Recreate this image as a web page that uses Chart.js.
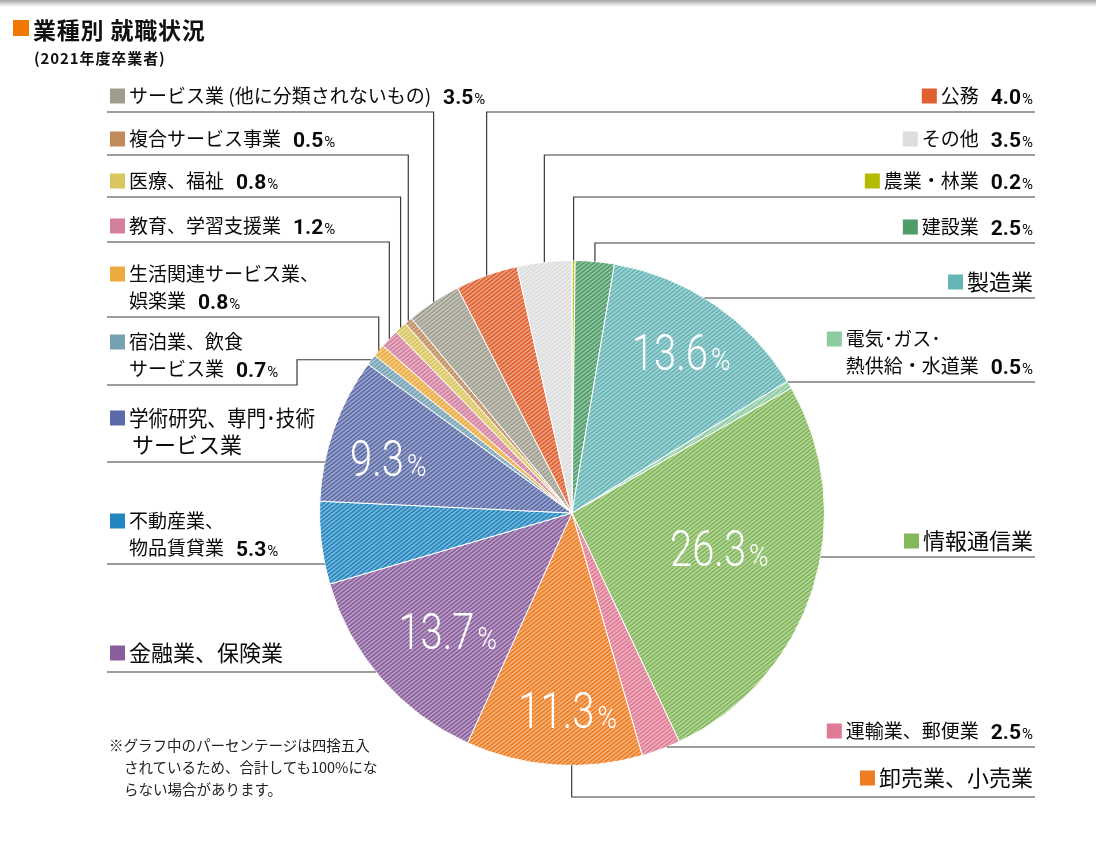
<!DOCTYPE html>
<html>
<head>
<meta charset="utf-8">
<script src="https://cdn.jsdelivr.net/npm/chart.js@4.4.1/dist/chart.umd.min.js"></script>
<style>
body{margin:0;background:#fff;width:1096px;height:844px;overflow:hidden;position:relative;font-family:"Noto Sans CJK JP",sans-serif;color:#111}
.topbar{position:absolute;left:0;top:0;width:1096px;height:7px;background:linear-gradient(#a6a6a6,#fff)}
#c{position:absolute;left:0;top:0}
.sq{position:absolute;left:13px;top:20px;width:16px;height:16px;background:#f07800}
.title{position:absolute;left:33px;top:12px;font-size:23px;font-weight:bold;line-height:34px;letter-spacing:0.8px}
.sub{position:absolute;left:34px;top:47px;font-size:15px;font-weight:bold;line-height:22px;letter-spacing:0.9px}
.note{position:absolute;left:109px;top:734px;font-size:14.5px;line-height:22px;color:#222}
.note span{display:block;padding-left:15px}
</style>
</head>
<body>
<div class="topbar"></div>
<canvas id="c" width="1096" height="844"></canvas>
<div class="sq"></div>
<div class="title">業種別 就職状況</div>
<div class="sub">(2021年度卒業者)</div>
<div class="note">※グラフ中のパーセンテージは四捨五入<span>されているため、合計しても100%にな</span><span>らない場合があります。</span></div>
<script>
// 業種 (時計回り、12時から)
const categories = ['農業・林業', '建設業', '製造業', '電気･ガス･\n熱供給・水道業', '情報通信業',
  '運輸業、郵便業', '卸売業、小売業', '金融業、保険業', '不動産業、\n物品賃貸業',
  '学術研究、専門･技術\nサービス業', '宿泊業、飲食\nサービス業', '生活関連サービス業、\n娯楽業',
  '教育、学習支援業', '医療、福祉', '複合サービス事業', 'サービス業 (他に分類されないもの)', '公務', 'その他'];
const shares = [0.2, 2.5, 13.6, 0.5, 26.3, 2.5, 11.3, 13.7, 5.3, 9.3, 0.7, 0.8, 1.2, 0.8, 0.5, 3.5, 4.0, 3.5];
const colors = ['#b3bb00', '#4e9d69', '#66b5b7', '#8dcba2', '#83b85a', '#e17a94', '#ee7d22', '#8a5e9d',
  '#2286c0', '#5b6ba8', '#74a1b4', '#ebab3f', '#d57f9f', '#d9c75d', '#c18a5a', '#9f9e8e', '#e0612f', '#dddddd'];

const canvas = document.getElementById('c');
const ctx0 = canvas.getContext('2d');

function hatch(color) {
  const w = 5, h = 4;
  const c = document.createElement('canvas');
  c.width = w; c.height = h;
  const g = c.getContext('2d');
  g.fillStyle = color;
  g.fillRect(0, 0, w, h);
  g.strokeStyle = 'rgba(255,255,255,0.42)';
  g.lineWidth = 1.4;
  g.beginPath();
  for (let k = -1; k <= 1; k++) {
    g.moveTo(-w + k * w, 2 * h); g.lineTo(2 * w + k * w, -h);
  }
  g.stroke();
  return ctx0.createPattern(c, 'repeat');
}

// 円の中に数字を出す項目 (半径の割合 r, 扇形の中の角度の割合 t)
const inside = {2: {r: 0.77, t: 0.5}, 4: {r: 0.6, t: 0.457}, 6: {r: 0.78, t: 0.43},
  7: {r: 0.68, t: 0.446}, 9: {r: 0.76, t: 0.42}};

// 引き出し線と文字の配置
const layout = [
  {i: 0, side: 'r', y: 197, type: 'v'},
  {i: 1, side: 'r', y: 243, type: 'v'},
  {i: 2, side: 'r', y: 298, type: 'h'},
  {i: 3, side: 'r', y: 382, type: 'h'},
  {i: 4, side: 'r', y: 557, type: 'h'},
  {i: 5, side: 'r', y: 747, type: 'h'},
  {i: 6, side: 'r', y: 797, type: 'v', t: 0.4, dy: 19},
  {i: 7, side: 'l', y: 672, type: 'h', dy: 19},
  {i: 8, side: 'l', y: 564, type: 'h'},
  {i: 9, side: 'l', y: 462, type: 'h', dy: 17, maxW: 186},
  {i: 10, side: 'l', y: 385, type: 'elbow', ex: 297},
  {i: 11, side: 'l', y: 317, type: 'v'},
  {i: 12, side: 'l', y: 242, type: 'v'},
  {i: 13, side: 'l', y: 197, type: 'v'},
  {i: 14, side: 'l', y: 155, type: 'v'},
  {i: 15, side: 'l', y: 112, type: 'v'},
  {i: 16, side: 'r', y: 112, type: 'v'},
  {i: 17, side: 'r', y: 155, type: 'v'}
];

const JP = '"Noto Sans CJK JP", sans-serif';

const labelPlugin = {
  id: 'labels',
  afterDraw(chart) {
    const ctx = chart.ctx;
    const arcs = chart.getDatasetMeta(0).data;
    const cx = arcs[0].x, cy = arcs[0].y, R = arcs[0].outerRadius;
    ctx.save();

    // 円内の大きな数字
    Object.keys(inside).forEach(k => {
      const arc = arcs[k];
      const p = inside[k];
      const a = arc.startAngle + (arc.endAngle - arc.startAngle) * p.t;
      const x = cx + R * p.r * Math.cos(a);
      const y = cy + R * p.r * Math.sin(a);
      const num = shares[k].toFixed(1);
      ctx.font = '300 50px Roboto';
      const nw = ctx.measureText(num).width * 0.8;
      ctx.font = '300 31px Roboto';
      const pw = ctx.measureText('%').width * 0.85;
      const left = x - (nw + 3 + pw) / 2;
      const base = y + 18;
      ctx.fillStyle = '#fff';
      ctx.textBaseline = 'alphabetic';
      ctx.textAlign = 'left';
      ctx.save();
      ctx.translate(left, base); ctx.scale(0.8, 1);
      ctx.font = '300 50px Roboto';
      ctx.fillText(num, 0, 0);
      ctx.restore();
      ctx.save();
      ctx.translate(left + nw + 3, base); ctx.scale(0.85, 1);
      ctx.font = '300 31px Roboto';
      ctx.fillText('%', 0, 0);
      ctx.restore();
    });

    // 引き出し線
    ctx.strokeStyle = '#3a3a3a';
    ctx.lineWidth = 1.2;
    layout.forEach(e => {
      const arc = arcs[e.i];
      const t = e.t === undefined ? 0.5 : e.t;
      const a = arc.startAngle + (arc.endAngle - arc.startAngle) * t;
      const px = cx + R * Math.cos(a), py = cy + R * Math.sin(a);
      const end = e.side === 'r' ? 1035 : 107;
      ctx.beginPath();
      if (e.type === 'v') {
        ctx.moveTo(px, py); ctx.lineTo(px, e.y); ctx.lineTo(end, e.y);
      } else if (e.type === 'h') {
        const dx = Math.sqrt(R * R - (e.y - cy) * (e.y - cy));
        ctx.moveTo(cx + (e.side === 'r' ? dx : -dx), e.y); ctx.lineTo(end, e.y);
      } else {
        ctx.moveTo(px, py); ctx.lineTo(e.ex, py); ctx.lineTo(e.ex, e.y); ctx.lineTo(end, e.y);
      }
      ctx.stroke();
    });

    // ラベル
    ctx.textBaseline = 'alphabetic';
    ctx.textAlign = 'left';
    layout.forEach(e => {
      const big = inside[e.i] !== undefined;
      const fs = big ? 22 : 19;
      const lines = categories[e.i].split('\n');
      const lastC = e.y - (e.dy || 16);
      const lh = 27;
      const firstC = lastC - (lines.length - 1) * lh;
      const off = fs * 0.38;
      const val = shares[e.i].toFixed(1);
      ctx.font = fs + 'px ' + JP;
      const lastW = ctx.measureText(lines[lines.length - 1]).width;
      ctx.font = 'bold 21px Roboto';
      const vw = big ? 0 : ctx.measureText(val).width;
      ctx.font = '15px Roboto';
      const pw = big ? 0 : ctx.measureText('%').width;
      const gap = 12;
      const total = lastW + (big ? 0 : gap + vw + 1 + pw);
      const tx = e.side === 'r' ? 1033 - total : 129;

      ctx.fillStyle = colors[e.i];
      ctx.fillRect(tx - 19, firstC - 7.5, 15, 15);
      ctx.fillStyle = '#0a0a0a';
      ctx.font = fs + 'px ' + JP;
      lines.forEach((ln, k) => {
        const lx = tx + (e.side === 'l' && k > 0 && big ? 3 : 0);
        const ly = firstC + k * lh + off;
        if (e.maxW) ctx.fillText(ln, lx, ly, e.maxW);
        else ctx.fillText(ln, lx, ly);
      });
      if (!big) {
        const vx = tx + lastW + gap;
        const base = lastC + 7.5;
        ctx.font = 'bold 21px Roboto';
        ctx.fillText(val, vx, base);
        ctx.font = '15px Roboto';
        ctx.fillText('%', vx + vw + 1, base);
      }
    });
    ctx.restore();
  }
};

new Chart(canvas, {
  type: 'pie',
  data: {
    labels: categories,
    datasets: [{
      data: shares,
      backgroundColor: colors.map(hatch),
      borderColor: '#ffffff',
      borderWidth: 1
    }]
  },
  options: {
    responsive: false,
    animation: false,
    layout: {padding: {left: 319, right: 271, top: 260, bottom: 78}},
    plugins: {
      legend: {display: false},
      tooltip: {enabled: false}
    }
  },
  plugins: [labelPlugin]
});
</script>
</body>
</html>
